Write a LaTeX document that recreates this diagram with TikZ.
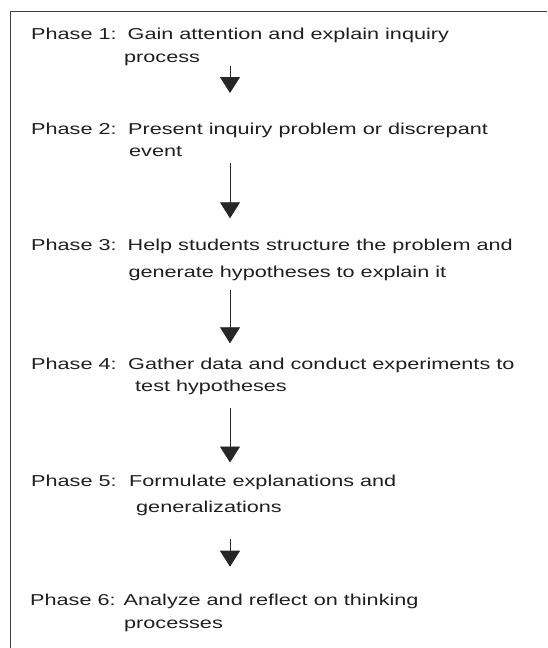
\documentclass[tikz,border=0pt]{standalone}
\usepackage{fontspec}
\setmainfont{Liberation Sans}[FakeStretch=1.37]
\usetikzlibrary{arrows.meta}
\colorlet{txtcol}{black!88}
\tikzstyle{frame}=[line width=1.6, black!75]
\tikzstyle{flow}=[line width=0.8, black!85, -{Triangle[width=20pt,length=16pt]}]
\tikzstyle{phase}=[anchor=base west, inner sep=0, text=txtcol,
                   font=\fontsize{15.8}{19}\selectfont]

\begin{document}
\begin{tikzpicture}[x=1pt,y=-1pt]
     \useasboundingbox (0,0) rectangle (547,648);
     \def\L{31}    % label x
     \def\T{127.5} % text x
     \def\X{230}   % arrow x
     % frame (cut off right and bottom)
     \draw[frame] (547,11.5) -- (10.5,11.5) -- (10.5,648);

     % phase 1
     \node[phase] (l1) at (\L,39) {Phase 1:};
     \node[phase] (p1) at (\T,39) {Gain attention and explain inquiry};
     \node[phase] (q1) at (124,62) {process};
     % phase 2
     \node[phase] (l2) at (\L,134) {Phase 2:};
     \node[phase] (p2) at (\T+0.5,134) {Present inquiry problem or discrepant};
     \node[phase] (q2) at (129,156.7) {event};
     % phase 3
     \node[phase] (l3) at (\L,250) {Phase 3:};
     \node[phase] (p3) at (\T,250) {Help students structure the problem and};
     \node[phase] (q3) at (128.3,277) {generate hypotheses to explain it};
     % phase 4
     \node[phase] (l4) at (\L,369.3) {Phase 4:};
     \node[phase] (p4) at (\T+0.5,369.3) {Gather data and conduct experiments to};
     \node[phase] (q4) at (135,391.7) {test hypotheses};
     % phase 5
     \node[phase] (l5) at (\L,486.7) {Phase 5:};
     \node[phase] (p5) at (\T+1.5,486.7) {Formulate explanations and};
     \node[phase] (q5) at (136,512) {generalizations};
     % phase 6
     \node[phase] (l6) at (\L-1,605) {Phase 6:};
     \node[phase] (p6) at (123.5,605) {Analyze and reflect on thinking};
     \node[phase] (q6) at (124,628) {processes};

     % arrows
     \coordinate (a1) at (\X,66);    \coordinate (b1) at (\X,93);
     \coordinate (a2) at (\X,163.3); \coordinate (b2) at (\X,218.3);
     \coordinate (a3) at (\X,290);   \coordinate (b3) at (\X,343.3);
     \coordinate (a4) at (\X,408.3); \coordinate (b4) at (\X,462.5);
     \coordinate (a5) at (\X,539);   \coordinate (b5) at (\X,566.7);
     \draw[flow] (a1) -- (b1);
     \draw[flow] (a2) -- (b2);
     \draw[flow] (a3) -- (b3);
     \draw[flow] (a4) -- (b4);
     \draw[flow] (a5) -- (b5);
\end{tikzpicture}
\end{document}
